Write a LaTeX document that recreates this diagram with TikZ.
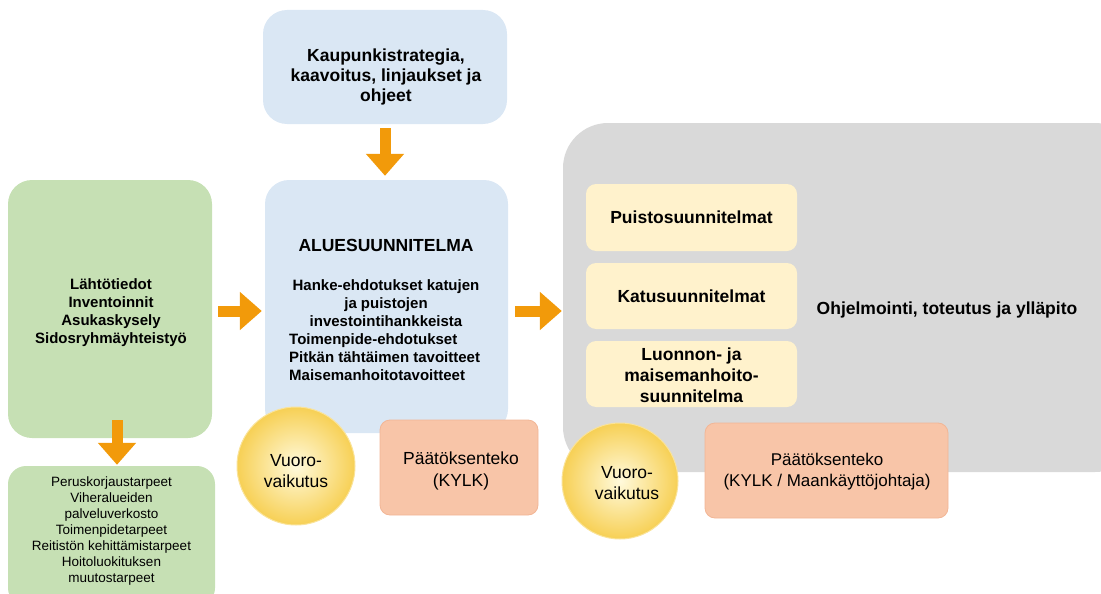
\documentclass[tikz,border=0pt]{standalone}
\usepackage{fontspec}
\setmainfont{Liberation Sans}
\usetikzlibrary{arrows.meta,calc}
\definecolor{greenbox}{RGB}{198,224,180}
\definecolor{bluebox}{RGB}{218,231,244}
\definecolor{graybox}{RGB}{217,217,217}
\definecolor{yellowbox}{RGB}{255,242,204}
\definecolor{salmon}{RGB}{248,197,168}
\definecolor{salmonline}{RGB}{242,182,150}
\definecolor{arroworange}{RGB}{242,154,10}
\definecolor{circin}{RGB}{255,250,220}
\definecolor{circout}{RGB}{247,208,85}
\begin{document}
\begin{tikzpicture}[x=1pt,y=-1pt,
  box/.style={rectangle, inner sep=0pt, draw=none},
  greenbig/.style={box, fill=greenbox, rounded corners=24pt},
  greensmall/.style={box, fill=greenbox, rounded corners=18pt},
  bluebig/.style={box, fill=bluebox, rounded corners=24pt},
  graybig/.style={box, fill=graybox, rounded corners=45pt},
  yellowsmall/.style={box, fill=yellowbox, rounded corners=10pt},
  decision/.style={box, fill=salmon, draw=salmonline, line width=0.8pt, rounded corners=10pt},
  interact/.style={circle, inner sep=0pt, shade, inner color=circin, outer color=circout, draw=circout!60!white, line width=1pt},
  boldtext/.style={font=\bfseries\fontsize{15}{18}\selectfont, align=center, inner sep=0pt},
  bigbold/.style={font=\bfseries\fontsize{17.5}{21}\selectfont, align=center, inner sep=0pt},
  plaintext/.style={font=\fontsize{17.5}{21.5}\selectfont, align=center, inner sep=0pt},
  smalltext/.style={font=\fontsize{13.5}{15.9}\selectfont, align=center, inner sep=0pt},
  blockarrow/.style={draw=arroworange, line width=11pt, -{Triangle[width=37pt,length=22pt]}}
]
\useasboundingbox (0,0) rectangle (1101,594);
\clip (0,0) rectangle (1101,594);

% boxes
\node[greenbig, minimum width=204pt, minimum height=258pt] (green) at (110,309) {};
\node[greensmall, minimum width=207pt, minimum height=140pt] (small) at (111.5,536) {};
\node[bluebig, minimum width=244pt, minimum height=114pt] (top) at (385,67) {};
\node[bluebig, minimum width=243pt, minimum height=253pt] (main) at (386.5,306.5) {};
\node[graybig, minimum width=577pt, minimum height=349pt] (gray) at (851.5,297.5) {};

\node[yellowsmall, minimum width=211pt, minimum height=67pt] (puisto) at (691.5,217.5) {};
\node[yellowsmall, minimum width=211pt, minimum height=66pt] (katu) at (691.5,296) {};
\node[yellowsmall, minimum width=211pt, minimum height=66pt] (luonto) at (691.5,374) {};

\node[decision, minimum width=158pt, minimum height=95pt] (dec1) at (459,467.5) {};
\node[decision, minimum width=243pt, minimum height=95pt] (dec2) at (826.5,470.5) {};
\node[interact, minimum size=118pt] (circ1) at (296,466) {};
\node[interact, minimum size=116pt] (circ2) at (620,481) {};

% texts
\node[boldtext] (greentext) at (111,313) {Lähtötiedot\\Inventoinnit\\Asukaskysely\\Sidosryhmäyhteistyö};
\node[smalltext] (smalltxt) at (111.5,531) {Peruskorjaustarpeet\\Viheralueiden\\palveluverkosto\\Toimenpidetarpeet\\Reitistön kehittämistarpeet\\Hoitoluokituksen\\muutostarpeet};
\node[font=\bfseries\fontsize{17.5}{19.8}\selectfont, align=center, inner sep=0pt] (toptext) at (386,77) {Kaupunkistrategia,\\kaavoitus, linjaukset ja\\ohjeet};
\node[bigbold] (alue) at (386,245) {ALUESUUNNITELMA};
\node[boldtext] (hanke) at (386,303) {Hanke-ehdotukset katujen\\ja puistojen\\investointihankkeista};
\node[boldtext, align=left, anchor=west] (toimen) at (289,357) {Toimenpide-ehdotukset\\Pitkän tähtäimen tavoitteet\\Maisemanhoitotavoitteet};
\node[bigbold] (ohj) at (947,310) {Ohjelmointi, toteutus ja ylläpito};
\node[bigbold] at (puisto) {Puistosuunnitelmat};
\node[bigbold] at (katu) {Katusuunnitelmat};
\node[bigbold] at ([yshift=-1pt]luonto.center) {Luonnon- ja\\maisemanhoito-\\suunnitelma};
\node[plaintext] at (296,471) {Vuoro-\\vaikutus};
\node[plaintext] at (627,483) {Vuoro-\\vaikutus};
\node[plaintext] at (461,471) {Päätöksenteko\\(KYLK)};
\node[font=\fontsize{17}{21}\selectfont, align=center, inner sep=0pt] at (827,472) {Päätöksenteko\\(KYLK / Maankäyttöjohtaja)};

% arrows
\coordinate (ar) at (0,311);
\draw[blockarrow] ([yshift=-4pt]top.south) -- ([yshift=4pt]top.south |- main.north);
\draw[blockarrow] ($(green.east |- ar)+(6,0)$) -- ($(main.west |- ar)+(-3,0)$);
\draw[blockarrow] ($(main.east |- ar)+(7,0)$) -- ($(gray.west |- ar)+(-1,0)$);
\draw[blockarrow] ($(green.south)+(7,-18)$) -- ($(green.south |- small.north)+(7,-1)$);
\end{tikzpicture}
\end{document}
